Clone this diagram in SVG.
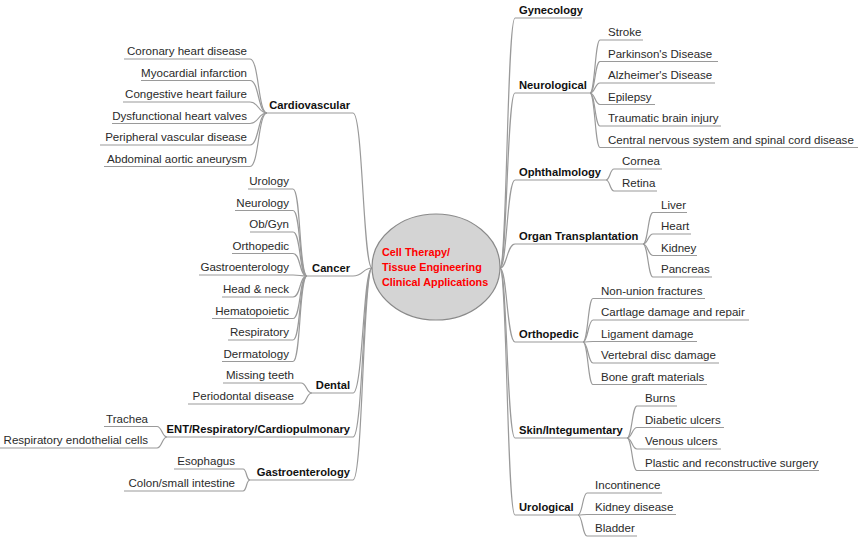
<svg xmlns="http://www.w3.org/2000/svg" width="860" height="537" viewBox="0 0 860 537">
<style>
.c{fill:none;stroke:#9a9a9a;stroke-width:1.2}
.u{fill:none;stroke:#9a9a9a;stroke-width:1.2}
.t{font-family:"Liberation Sans",Arial,sans-serif;font-size:11.55px;fill:#2a2a2a}
.b{font-family:"Liberation Sans",Arial,sans-serif;font-size:11.2px;font-weight:bold;fill:#111}
.r{text-anchor:end}
.root{font-family:"Liberation Sans",Arial,sans-serif;font-size:10.85px;font-weight:bold;fill:#ff0000}
</style>
<rect width="860" height="537" fill="#fff"/>
<g id="connectors">
<path class="c" d="M372,268 C363,268 363,113 353,113"/>
<path class="c" d="M372,268 C363,268 363,276 353,276"/>
<path class="c" d="M372,268 C363,268 363,393 353,393"/>
<path class="c" d="M372,268 C363,268 363,437 353,437"/>
<path class="c" d="M372,268 C363,268 363,480 353,480"/>
<path class="c" d="M500,268 C507,268 507,18 515,18"/>
<path class="c" d="M500,268 C507,268 507,93 515,93"/>
<path class="c" d="M500,268 C507,268 507,180 515,180"/>
<path class="c" d="M500,268 C507,268 507,244 515,244"/>
<path class="c" d="M500,268 C507,268 507,342 515,342"/>
<path class="c" d="M500,268 C507,268 507,438 515,438"/>
<path class="c" d="M500,268 C507,268 507,515 515,515"/>
<path class="c" d="M267,113 C258,113 259,59 250,59"/>
<path class="c" d="M267,113 C258,113 259,80.5 250,80.5"/>
<path class="c" d="M267,113 C258,113 259,102 250,102"/>
<path class="c" d="M267,113 C258,113 259,123.5 250,123.5"/>
<path class="c" d="M267,113 C258,113 259,145 250,145"/>
<path class="c" d="M267,113 C258,113 259,166.5 250,166.5"/>
<path class="c" d="M307,276 C299,276 301,189 293,189"/>
<path class="c" d="M307,276 C299,276 301,210.5 293,210.5"/>
<path class="c" d="M307,276 C299,276 301,232 293,232"/>
<path class="c" d="M307,276 C299,276 301,253.5 293,253.5"/>
<path class="c" d="M307,276 C299,276 301,275 293,275"/>
<path class="c" d="M307,276 C299,276 301,297 293,297"/>
<path class="c" d="M307,276 C299,276 301,318.5 293,318.5"/>
<path class="c" d="M307,276 C299,276 301,340 293,340"/>
<path class="c" d="M307,276 C299,276 301,361.5 293,361.5"/>
<path class="c" d="M312,393 C306,393 307,383 301,383"/>
<path class="c" d="M312,393 C306,393 307,404 301,404"/>
<path class="c" d="M167,437 C162,437 162,426.5 157,426.5"/>
<path class="c" d="M167,437 C162,437 162,448 157,448"/>
<path class="c" d="M250,480 C246,480 247,469 243,469"/>
<path class="c" d="M250,480 C246,480 247,491 243,491"/>
<path class="c" d="M590,93 C595,93 595,40 600,40"/>
<path class="c" d="M590,93 C595,93 595,61.5 600,61.5"/>
<path class="c" d="M590,93 C595,93 595,83 600,83"/>
<path class="c" d="M590,93 C595,93 595,104.5 600,104.5"/>
<path class="c" d="M590,93 C595,93 595,126 600,126"/>
<path class="c" d="M590,93 C595,93 595,147.5 600,147.5"/>
<path class="c" d="M606,180 C610,180 610,169 614,169"/>
<path class="c" d="M606,180 C610,180 610,191 614,191"/>
<path class="c" d="M643,244 C648,244 648,212.5 653,212.5"/>
<path class="c" d="M643,244 C648,244 648,234 653,234"/>
<path class="c" d="M643,244 C648,244 648,255.5 653,255.5"/>
<path class="c" d="M643,244 C648,244 648,277 653,277"/>
<path class="c" d="M583,342 C588,342 588,298.5 593,298.5"/>
<path class="c" d="M583,342 C588,342 588,320 593,320"/>
<path class="c" d="M583,342 C588,342 588,341.5 593,341.5"/>
<path class="c" d="M583,342 C588,342 588,363 593,363"/>
<path class="c" d="M583,342 C588,342 588,384.5 593,384.5"/>
<path class="c" d="M627,438 C632,438 632,406 637,406"/>
<path class="c" d="M627,438 C632,438 632,427.5 637,427.5"/>
<path class="c" d="M627,438 C632,438 632,449 637,449"/>
<path class="c" d="M627,438 C632,438 632,470.5 637,470.5"/>
<path class="c" d="M578,515 C582.5,515 582.5,493 587,493"/>
<path class="c" d="M578,515 C582.5,515 582.5,514.5 587,514.5"/>
<path class="c" d="M578,515 C582.5,515 582.5,536 587,536"/>
</g>

<g id="root">
<ellipse cx="436" cy="267" rx="64" ry="53" fill="#d4d4d4" stroke="#8a8a8a" stroke-width="1.2"/>
<text class="root" x="382" y="256">Cell Therapy/</text>
<text class="root" x="382" y="271">Tissue Engineering</text>
<text class="root" x="382" y="286">Clinical Applications</text>
</g>

<g id="cardiovascular"><path class="u" d="M267,113 H353"/><text class="b r" x="350" y="109">Cardiovascular</text></g>
<g id="cancer"><path class="u" d="M307,276 H353"/><text class="b r" x="350" y="272">Cancer</text></g>
<g id="dental"><path class="u" d="M312,393 H353"/><text class="b r" x="350" y="389">Dental</text></g>
<g id="ent"><path class="u" d="M167,437 H353"/><text class="b r" x="350" y="433">ENT/Respiratory/Cardiopulmonary</text></g>
<g id="gastro-left"><path class="u" d="M250,480 H353"/><text class="b r" x="350" y="476">Gastroenterology</text></g>

<g id="cv1"><path class="u" d="M124,59 H250"/><text class="t r" x="247" y="55">Coronary heart disease</text></g>
<g id="cv2"><path class="u" d="M141,80.5 H250"/><text class="t r" x="247" y="76.5">Myocardial infarction</text></g>
<g id="cv3"><path class="u" d="M123,102 H250"/><text class="t r" x="247" y="98">Congestive heart failure</text></g>
<g id="cv4"><path class="u" d="M112,123.5 H250"/><text class="t r" x="247" y="119.5">Dysfunctional heart valves</text></g>
<g id="cv5"><path class="u" d="M100,145 H250"/><text class="t r" x="247" y="141">Peripheral vascular disease</text></g>
<g id="cv6"><path class="u" d="M104,166.5 H250"/><text class="t r" x="247" y="162.5">Abdominal aortic aneurysm</text></g>

<g id="ca1"><path class="u" d="M248,189 H293"/><text class="t r" x="289" y="185">Urology</text></g>
<g id="ca2"><path class="u" d="M235,210.5 H293"/><text class="t r" x="289" y="206.5">Neurology</text></g>
<g id="ca3"><path class="u" d="M250,232 H293"/><text class="t r" x="289" y="228">Ob/Gyn</text></g>
<g id="ca4"><path class="u" d="M232,253.5 H293"/><text class="t r" x="289" y="249.5">Orthopedic</text></g>
<g id="ca5"><path class="u" d="M199,275 H293"/><text class="t r" x="289" y="271">Gastroenterology</text></g>
<g id="ca6"><path class="u" d="M222,297 H293"/><text class="t r" x="289" y="293">Head &amp; neck</text></g>
<g id="ca7"><path class="u" d="M212,318.5 H293"/><text class="t r" x="289" y="314.5">Hematopoietic</text></g>
<g id="ca8"><path class="u" d="M228,340 H293"/><text class="t r" x="289" y="336">Respiratory</text></g>
<g id="ca9"><path class="u" d="M222,361.5 H293"/><text class="t r" x="289" y="357.5">Dermatology</text></g>

<g id="de1"><path class="u" d="M223,383 H301"/><text class="t r" x="294" y="379">Missing teeth</text></g>
<g id="de2"><path class="u" d="M188,404 H301"/><text class="t r" x="294" y="400">Periodontal disease</text></g>

<g id="en1"><path class="u" d="M104,426.5 H157"/><text class="t r" x="148" y="422.5">Trachea</text></g>
<g id="en2"><path class="u" d="M0,448 H157"/><text class="t r" x="148" y="444">Respiratory endothelial cells</text></g>

<g id="ga1"><path class="u" d="M174,469 H243"/><text class="t r" x="235" y="465">Esophagus</text></g>
<g id="ga2"><path class="u" d="M124,491 H243"/><text class="t r" x="235" y="487">Colon/small intestine</text></g>

<g id="gynecology"><path class="u" d="M515,18 H582"/><text class="b" x="519" y="14">Gynecology</text></g>
<g id="neurological"><path class="u" d="M515,93 H590"/><text class="b" x="519" y="89">Neurological</text></g>
<g id="ophthalmology"><path class="u" d="M515,180 H606"/><text class="b" x="519" y="176">Ophthalmology</text></g>
<g id="organ"><path class="u" d="M515,244 H643"/><text class="b" x="519" y="240">Organ Transplantation</text></g>
<g id="orthopedic"><path class="u" d="M515,342 H583"/><text class="b" x="519" y="338">Orthopedic</text></g>
<g id="skin"><path class="u" d="M515,438 H627"/><text class="b" x="519" y="434">Skin/Integumentary</text></g>
<g id="urological"><path class="u" d="M515,515 H578"/><text class="b" x="519" y="511">Urological</text></g>

<g id="ne1"><path class="u" d="M600,40 H643"/><text class="t" x="608" y="36">Stroke</text></g>
<g id="ne2"><path class="u" d="M600,61.5 H718"/><text class="t" x="608" y="57.5">Parkinson's Disease</text></g>
<g id="ne3"><path class="u" d="M600,83 H715"/><text class="t" x="608" y="79">Alzheimer's Disease</text></g>
<g id="ne4"><path class="u" d="M600,104.5 H655"/><text class="t" x="608" y="100.5">Epilepsy</text></g>
<g id="ne5"><path class="u" d="M600,126 H721"/><text class="t" x="608" y="122">Traumatic brain injury</text></g>
<g id="ne6"><path class="u" d="M600,147.5 H858"/><text class="t" x="608" y="143.5">Central nervous system and spinal cord disease</text></g>

<g id="op1"><path class="u" d="M614,169 H662"/><text class="t" x="622" y="165">Cornea</text></g>
<g id="op2"><path class="u" d="M614,191 H657"/><text class="t" x="622" y="187">Retina</text></g>

<g id="or1"><path class="u" d="M653,212.5 H687"/><text class="t" x="661" y="208.5">Liver</text></g>
<g id="or2"><path class="u" d="M653,234 H691"/><text class="t" x="661" y="230">Heart</text></g>
<g id="or3"><path class="u" d="M653,255.5 H697"/><text class="t" x="661" y="251.5">Kidney</text></g>
<g id="or4"><path class="u" d="M653,277 H712"/><text class="t" x="661" y="273">Pancreas</text></g>

<g id="ot1"><path class="u" d="M593,298.5 H705"/><text class="t" x="601" y="294.5">Non-union fractures</text></g>
<g id="ot2"><path class="u" d="M593,320 H749"/><text class="t" x="601" y="316">Cartlage damage and repair</text></g>
<g id="ot3"><path class="u" d="M593,341.5 H697"/><text class="t" x="601" y="337.5">Ligament damage</text></g>
<g id="ot4"><path class="u" d="M593,363 H719"/><text class="t" x="601" y="359">Vertebral disc damage</text></g>
<g id="ot5"><path class="u" d="M593,384.5 H707"/><text class="t" x="601" y="380.5">Bone graft materials</text></g>

<g id="sk1"><path class="u" d="M637,406 H677"/><text class="t" x="645" y="402">Burns</text></g>
<g id="sk2"><path class="u" d="M637,427.5 H724"/><text class="t" x="645" y="423.5">Diabetic ulcers</text></g>
<g id="sk3"><path class="u" d="M637,449 H721"/><text class="t" x="645" y="445">Venous ulcers</text></g>
<g id="sk4"><path class="u" d="M637,470.5 H819"/><text class="t" x="645" y="466.5">Plastic and reconstructive surgery</text></g>

<g id="ur1"><path class="u" d="M587,493 H662"/><text class="t" x="595" y="489">Incontinence</text></g>
<g id="ur2"><path class="u" d="M587,514.5 H676"/><text class="t" x="595" y="510.5">Kidney disease</text></g>
<g id="ur3"><path class="u" d="M587,536 H637"/><text class="t" x="595" y="532">Bladder</text></g>
</svg>
